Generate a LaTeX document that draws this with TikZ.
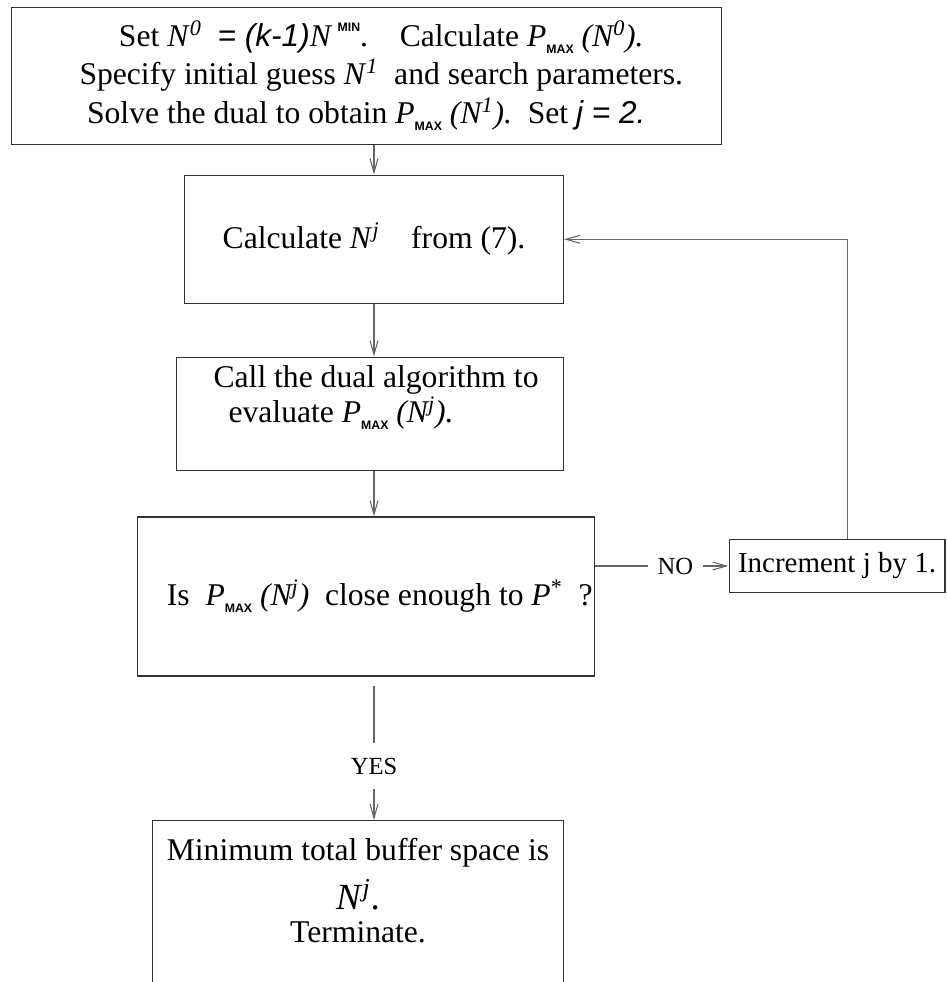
\documentclass[tikz,border=0pt]{standalone}
\usepackage{fontspec}
\setmainfont{Liberation Serif}
\newfontfamily\hv{Liberation Sans}
\usetikzlibrary{calc, arrows.meta, positioning}

\newcommand{\Pmax}{\textit{P}\raisebox{-0.5ex}{\hv\bfseries\fontsize{7}{8}\selectfont MAX}}
\newcommand{\Nsup}[1]{\textit{N}\textsuperscript{\textit{#1}}}

\begin{document}
\begin{tikzpicture}[x=0.02cm, y=-0.02cm, >={Straight Barb[length=8pt,width=4.5pt]},
    box/.style={draw=black!80, line width=0.6pt, inner sep=0pt, font=\fontsize{18}{22}\selectfont},
    link/.style={draw=black!60, line width=0.6pt},
    tag/.style={fill=white, inner sep=0pt, font=\fontsize{14}{16}\selectfont}]
    \path[use as bounding box, clip] (0,0) rectangle (946,982);

    % Steps of the search
    \node[box, minimum width=14.21cm, minimum height=2.74cm, align=center] (setup) at (366.3,75.7)
        {\hspace*{0.6cm}Set \Nsup{0}\ \ {\hv\itshape = (k-1)}\textit{N}\,\raisebox{1ex}{\hv\bfseries\fontsize{7}{8}\selectfont MIN}.\quad Calculate \Pmax\ \textit{(N\textsuperscript{0}).}\\
        \hspace*{0.6cm}Specify initial guess \Nsup{1}\ \ and search parameters.\\
        Solve the dual to obtain \Pmax\ \textit{(N\textsuperscript{1}).}\ \ Set {\hv\itshape j = 2.}};
    \node[box, minimum width=7.58cm, minimum height=2.57cm] (calcN) at (374,239.3)
        {Calculate \Nsup{j}\quad from (7).};
    \node[box] (evalP) at (369.8,413.8)
        {\parbox[c][2.27cm][t]{7.75cm}{\fontsize{18}{17.5}\selectfont\vspace*{5pt}%
        \hspace*{0.75cm}Call the dual algorithm to\\
        \hspace*{1.05cm}evaluate \Pmax\ \textit{(N\textsuperscript{j}).}}};
    \node[box, minimum width=9.16cm, minimum height=3.18cm] (check) at (366,596.5)
        {\hspace*{0.55cm}Is\ \ \Pmax\ \textit{(N\textsuperscript{j})}\ \ close enough to \textit{P}\textsuperscript{*}\ \ ?};
    \node[box, minimum width=4.32cm, minimum height=1.05cm, font=\fontsize{16.5}{20}\selectfont] (incr) at (837,566)
        {Increment j by 1.};
    \node[box] (term) at (358,915.3)
        {\parbox[c][3.79cm][t]{8.22cm}{\centering\fontsize{18}{23.5}\selectfont\vspace*{10pt}%
        Minimum total buffer space is\\[4.5pt]
        {\fontsize{21}{23.5}\selectfont\Nsup{j}.}\\[-4.5pt]
        Terminate.}};

    % Connectors
    \coordinate (trunk) at (374,0);
    \coordinate (yesTop) at ($(check.south -| trunk)+(0,9)$);
    \draw[link, ->] (setup.south -| trunk) -- (calcN.north -| trunk);
    \draw[link, ->] (calcN.south -| trunk) -- (evalP.north -| trunk);
    \draw[link, ->] (evalP.south -| trunk) -- (check.north -| trunk);
    \draw[link, ->] (yesTop) -- node[tag, pos=0.6, minimum height=0.92cm] {YES} (term.north -| trunk);
    \draw[link, ->] (check.east |- incr.west) -- node[tag, pos=0.6, minimum width=1.09cm] {NO} (incr.west);
    \draw[link, ->] ([xshift=0.21cm]incr.north) |- (calcN.east);
\end{tikzpicture}
\end{document}
